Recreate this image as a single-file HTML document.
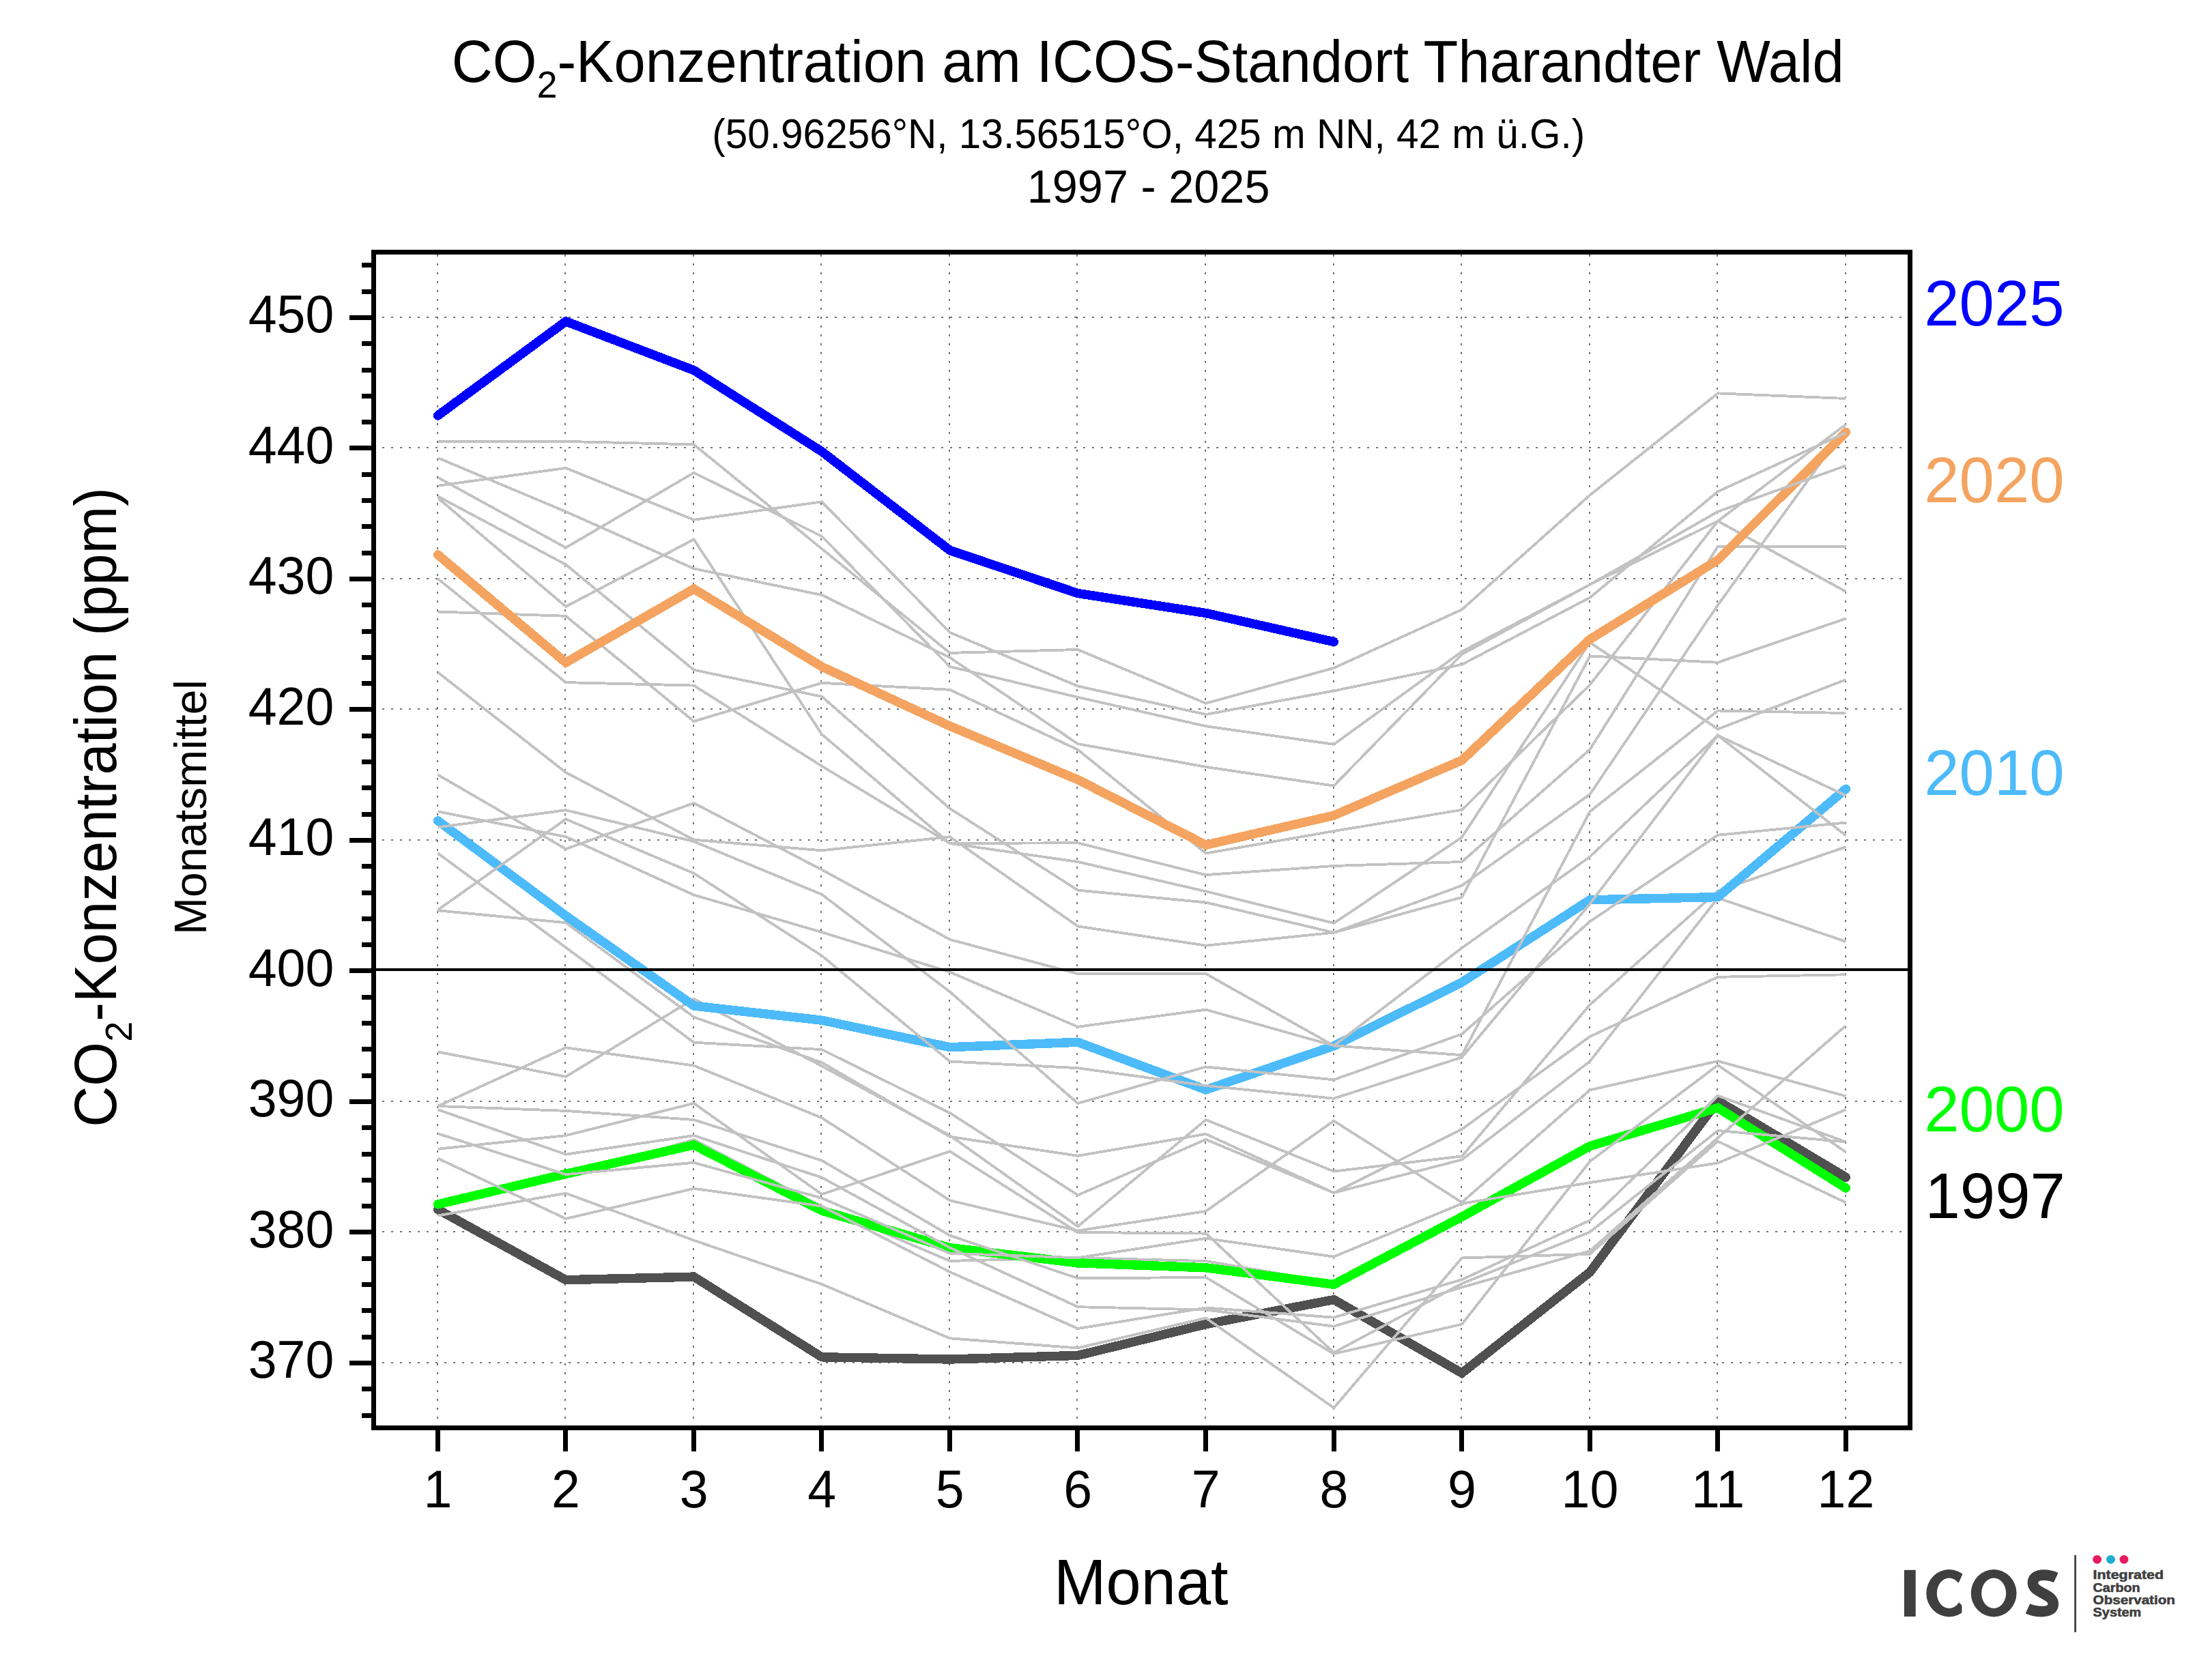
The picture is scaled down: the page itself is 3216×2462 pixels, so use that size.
<!DOCTYPE html>
<html lang="de"><head><meta charset="utf-8">
<title>CO2-Konzentration am ICOS-Standort Tharandter Wald</title>
<style>
html,body{margin:0;padding:0;background:#fff;}
body{width:3216px;height:2462px;overflow:hidden;}
svg{display:block;}
text{font-family:"Liberation Sans", sans-serif;fill:#000;}
.g{fill:none;stroke:#c2c2c2;stroke-width:3.9;stroke-linejoin:miter;stroke-linecap:butt;shape-rendering:crispEdges;}
.h{fill:none;stroke-width:13.4;stroke-linejoin:miter;stroke-linecap:round;shape-rendering:crispEdges;}
.grid{stroke:#737373;stroke-width:2;fill:none;}
</style></head><body>
<svg width="3216" height="2462" viewBox="0 0 3216 2462">
<rect x="0" y="0" width="3216" height="2462" fill="#ffffff"/>
<g class="grid">
<line x1="641" y1="373" x2="641" y2="2089" stroke-dasharray="3 10" stroke-dashoffset="-0.1"/>
<line x1="828" y1="373" x2="828" y2="2089" stroke-dasharray="3 10" stroke-dashoffset="-0.1"/>
<line x1="1016" y1="373" x2="1016" y2="2089" stroke-dasharray="3 10" stroke-dashoffset="-0.1"/>
<line x1="1203" y1="373" x2="1203" y2="2089" stroke-dasharray="3 10" stroke-dashoffset="-0.1"/>
<line x1="1391" y1="373" x2="1391" y2="2089" stroke-dasharray="3 10" stroke-dashoffset="-0.1"/>
<line x1="1578" y1="373" x2="1578" y2="2089" stroke-dasharray="3 10" stroke-dashoffset="-0.1"/>
<line x1="1766" y1="373" x2="1766" y2="2089" stroke-dasharray="3 10" stroke-dashoffset="-0.1"/>
<line x1="1954" y1="373" x2="1954" y2="2089" stroke-dasharray="3 10" stroke-dashoffset="-0.1"/>
<line x1="2141" y1="373" x2="2141" y2="2089" stroke-dasharray="3 10" stroke-dashoffset="-0.1"/>
<line x1="2329" y1="373" x2="2329" y2="2089" stroke-dasharray="3 10" stroke-dashoffset="-0.1"/>
<line x1="2516" y1="373" x2="2516" y2="2089" stroke-dasharray="3 10" stroke-dashoffset="-0.1"/>
<line x1="2704" y1="373" x2="2704" y2="2089" stroke-dasharray="3 10" stroke-dashoffset="-0.1"/>
<line x1="560" y1="1997" x2="2795" y2="1997" stroke-dasharray="3 10"/>
<line x1="560" y1="1805" x2="2795" y2="1805" stroke-dasharray="3 10"/>
<line x1="560" y1="1614" x2="2795" y2="1614" stroke-dasharray="3 10"/>
<line x1="560" y1="1231" x2="2795" y2="1231" stroke-dasharray="3 10"/>
<line x1="560" y1="1039" x2="2795" y2="1039" stroke-dasharray="3 10"/>
<line x1="560" y1="848" x2="2795" y2="848" stroke-dasharray="3 10"/>
<line x1="560" y1="656" x2="2795" y2="656" stroke-dasharray="3 10"/>
<line x1="560" y1="465" x2="2795" y2="465" stroke-dasharray="3 10"/>
</g>
<polyline class="h" stroke="#505050" points="641.5,1772.5 829.0,1875.7 1016.6,1871.1 1204.1,1988.8 1391.7,1992.0 1579.2,1986.4 1766.8,1940.6 1954.3,1904.6 2141.9,2012.2 2329.4,1864.3 2516.9,1613.2 2704.5,1725.2"/>
<g class="g">
<polyline points="641.5,1768.0 829.0,1725.0 1016.6,1670.1 1204.1,1768.0 1391.7,1847.9 1579.2,1843.2 1766.8,1848.1 1954.3,1880.0 2141.9,1780.0 2329.4,1677.0 2516.9,1620.0 2704.5,1738.0"/>
<polyline points="641.5,1781.5 829.0,1748.7 1016.6,1817.7 1204.1,1882.0 1391.7,1961.3 1579.2,1975.5 1766.8,1931.5 1954.3,2063.2 2141.9,1843.5 2329.4,1837.8 2516.9,1672.6 2704.5,1762.5"/>
</g>
<polyline class="h" stroke="#00ff00" points="641.5,1764.9 829.0,1720.4 1016.6,1677.9 1204.1,1774.2 1391.7,1828.6 1579.2,1850.8 1766.8,1857.8 1954.3,1882.3 2141.9,1783.2 2329.4,1679.6 2516.9,1623.5 2704.5,1741.1"/>
<g class="g">
<polyline points="641.5,1697.6 829.0,1786.0 1016.6,1741.8 1204.1,1767.6 1391.7,1864.0 1579.2,1947.0 1766.8,1916.5 1954.3,1930.7 2141.9,1875.2 2329.4,1788.4 2516.9,1605.8 2704.5,1673.4"/>
<polyline points="641.5,1683.8 829.0,1664.1 1016.6,1616.8 1204.1,1750.2 1391.7,1687.3 1579.2,1806.0 1766.8,1807.6 1954.3,1982.3 2141.9,1881.0 2329.4,1805.6 2516.9,1656.9 2704.5,1673.4"/>
<polyline points="641.5,1661.3 829.0,1721.1 1016.6,1703.8 1204.1,1755.8 1391.7,1836.8 1579.2,1843.2 1766.8,1814.8 1954.3,1841.7 2141.9,1763.8 2329.4,1733.1 2516.9,1704.4 2704.5,1626.1"/>
<polyline points="641.5,1626.1 829.0,1691.7 1016.6,1664.1 1204.1,1725.6 1391.7,1828.5 1579.2,1915.2 1766.8,1919.5 1954.3,1943.7 2141.9,1886.5 2329.4,1833.3 2516.9,1667.4 2704.5,1502.9"/>
<polyline points="641.5,1621.0 829.0,1627.9 1016.6,1641.0 1204.1,1700.7 1391.7,1810.6 1579.2,1873.3 1766.8,1872.0 1954.3,1984.0 2141.9,1940.6 2329.4,1702.1 2516.9,1561.0 2704.5,1688.3"/>
<polyline points="641.5,1621.0 829.0,1535.3 1016.6,1561.6 1204.1,1638.2 1391.7,1759.2 1579.2,1803.6 1766.8,1775.0 1954.3,1642.6 2141.9,1762.0 2329.4,1597.4 2516.9,1555.0 2704.5,1606.4"/>
<polyline points="641.5,1541.5 829.0,1577.8 1016.6,1463.9 1204.1,1562.3 1391.7,1664.0 1579.2,1797.3 1766.8,1641.0 1954.3,1716.6 2141.9,1694.4 2329.4,1472.5 2516.9,1305.6 2704.5,1241.1"/>
<polyline points="641.5,1334.3 829.0,1352.2 1016.6,1490.5 1204.1,1557.1 1391.7,1665.8 1579.2,1693.8 1766.8,1661.9 1954.3,1748.0 2141.9,1654.8 2329.4,1519.1 2516.9,1431.8 2704.5,1428.3"/>
<polyline points="641.5,1250.4 829.0,1388.5 1016.6,1527.7 1204.1,1538.1 1391.7,1631.0 1579.2,1751.4 1766.8,1669.9 1954.3,1748.0 2141.9,1699.5 2329.4,1555.4 2516.9,1316.0 2704.5,1379.9"/>
</g>
<polyline class="h" stroke="#4dbbfa" points="641.5,1202.8 829.0,1342.0 1016.6,1474.0 1204.1,1495.2 1391.7,1534.7 1579.2,1527.3 1766.8,1597.0 1954.3,1532.8 2141.9,1439.5 2329.4,1318.8 2516.9,1314.6 2704.5,1156.2"/>
<g class="g">
<polyline points="641.5,1333.6 829.0,1200.4 1016.6,1279.8 1204.1,1400.6 1391.7,1555.5 1579.2,1565.2 1766.8,1591.0 1954.3,1609.8 2141.9,1549.4 2329.4,1324.6 2516.9,1077.8 2704.5,1224.5"/>
<polyline points="641.5,1212.4 829.0,1187.2 1016.6,1233.2 1204.1,1310.8 1391.7,1453.5 1579.2,1617.0 1766.8,1563.4 1954.3,1582.4 2141.9,1515.4 2329.4,1350.5 2516.9,1223.8 2704.5,1205.5"/>
<polyline points="641.5,1189.3 829.0,1226.2 1016.6,1311.5 1204.1,1366.1 1391.7,1424.5 1579.2,1504.8 1766.8,1479.6 1954.3,1532.4 2141.9,1546.2 2329.4,1189.3 2516.9,1041.5 2704.5,1045.0"/>
<polyline points="641.5,1135.4 829.0,1244.2 1016.6,1176.9 1204.1,1274.6 1391.7,1376.8 1579.2,1427.1 1766.8,1427.1 1954.3,1532.4 2141.9,1389.2 2329.4,1255.6 2516.9,1077.8 2704.5,1165.8"/>
<polyline points="641.5,985.3 829.0,1132.0 1016.6,1230.7 1204.1,1246.3 1391.7,1226.3 1579.2,1357.4 1766.8,1385.7 1954.3,1366.7 2141.9,1314.9 2329.4,961.5 2516.9,970.8 2704.5,906.5"/>
<polyline points="641.5,896.5 829.0,902.8 1016.6,1057.1 1204.1,1000.8 1391.7,1010.8 1579.2,1098.7 1766.8,1250.5 1954.3,1218.0 2141.9,1186.8 2329.4,1003.6 2516.9,763.6 2704.5,867.1"/>
<polyline points="641.5,848.1 829.0,1000.1 1016.6,1004.6 1204.1,1122.7 1391.7,1235.9 1579.2,1263.0 1766.8,1306.3 1954.3,1352.9 2141.9,1226.9 2329.4,941.4 2516.9,1068.5 2704.5,996.0"/>
<polyline points="641.5,729.7 829.0,888.9 1016.6,790.5 1204.1,1076.1 1391.7,1235.9 1579.2,1235.3 1766.8,1282.1 1954.3,1269.0 2141.9,1263.0 2329.4,1098.5 2516.9,800.8 2704.5,800.8"/>
<polyline points="641.5,727.3 829.0,827.4 1016.6,981.8 1204.1,1020.8 1391.7,1184.9 1579.2,1304.6 1766.8,1322.5 1954.3,1366.7 2141.9,1297.7 2329.4,1164.1 2516.9,886.7 2704.5,627.0"/>
</g>
<polyline class="h" stroke="#f4a460" points="641.5,813.0 829.0,971.0 1016.6,863.0 1204.1,977.0 1391.7,1064.0 1579.2,1142.6 1766.8,1238.3 1954.3,1195.0 2141.9,1114.2 2329.4,937.0 2516.9,820.6 2704.5,633.1"/>
<g class="g">
<polyline points="641.5,711.8 829.0,685.9 1016.6,761.8 1204.1,735.3 1391.7,926.9 1579.2,1005.5 1766.8,1047.0 1954.3,1012.4 2141.9,973.8 2329.4,875.8 2516.9,720.4 2704.5,634.1"/>
<polyline points="641.5,699.7 829.0,802.6 1016.6,692.8 1204.1,786.0 1391.7,977.0 1579.2,1021.8 1766.8,1064.2 1954.3,1090.8 2141.9,954.8 2329.4,856.8 2516.9,763.6 2704.5,622.0"/>
<polyline points="641.5,671.0 829.0,749.8 1016.6,833.3 1204.1,872.0 1391.7,963.6 1579.2,1090.1 1766.8,1123.9 1954.3,1151.6 2141.9,958.9 2329.4,856.8 2516.9,749.8 2704.5,682.4"/>
<polyline points="641.5,646.9 829.0,646.9 1016.6,651.4 1204.1,804.3 1391.7,956.9 1579.2,952.0 1766.8,1030.7 1954.3,978.9 2141.9,893.3 2329.4,725.6 2516.9,576.4 2704.5,584.0"/>
</g>
<polyline class="h" stroke="#0000ff" points="641.5,609.0 829.0,471.0 1016.6,542.6 1204.1,661.7 1391.7,806.5 1579.2,869.5 1766.8,898.5 1954.3,940.6"/>
<rect x="551" y="1419" width="2244" height="4" fill="#000"/>
<g fill="#000">
<rect x="547.5" y="369.5" width="2251" height="1723" fill="none" stroke="#000" stroke-width="7"/>
<rect x="530" y="2071" width="15" height="7"/>
<rect x="530" y="2032" width="15" height="7"/>
<rect x="512" y="1994" width="33" height="7"/>
<rect x="530" y="1956" width="15" height="7"/>
<rect x="530" y="1917" width="15" height="7"/>
<rect x="530" y="1879" width="15" height="7"/>
<rect x="530" y="1841" width="15" height="7"/>
<rect x="512" y="1802" width="33" height="7"/>
<rect x="530" y="1764" width="15" height="7"/>
<rect x="530" y="1726" width="15" height="7"/>
<rect x="530" y="1688" width="15" height="7"/>
<rect x="530" y="1649" width="15" height="7"/>
<rect x="512" y="1611" width="33" height="7"/>
<rect x="530" y="1573" width="15" height="7"/>
<rect x="530" y="1534" width="15" height="7"/>
<rect x="530" y="1496" width="15" height="7"/>
<rect x="530" y="1458" width="15" height="7"/>
<rect x="512" y="1419" width="33" height="7"/>
<rect x="530" y="1381" width="15" height="7"/>
<rect x="530" y="1343" width="15" height="7"/>
<rect x="530" y="1305" width="15" height="7"/>
<rect x="530" y="1266" width="15" height="7"/>
<rect x="512" y="1228" width="33" height="7"/>
<rect x="530" y="1190" width="15" height="7"/>
<rect x="530" y="1151" width="15" height="7"/>
<rect x="530" y="1113" width="15" height="7"/>
<rect x="530" y="1075" width="15" height="7"/>
<rect x="512" y="1036" width="33" height="7"/>
<rect x="530" y="998" width="15" height="7"/>
<rect x="530" y="960" width="15" height="7"/>
<rect x="530" y="922" width="15" height="7"/>
<rect x="530" y="883" width="15" height="7"/>
<rect x="512" y="845" width="33" height="7"/>
<rect x="530" y="807" width="15" height="7"/>
<rect x="530" y="768" width="15" height="7"/>
<rect x="530" y="730" width="15" height="7"/>
<rect x="530" y="692" width="15" height="7"/>
<rect x="512" y="653" width="33" height="7"/>
<rect x="530" y="615" width="15" height="7"/>
<rect x="530" y="577" width="15" height="7"/>
<rect x="530" y="539" width="15" height="7"/>
<rect x="530" y="500" width="15" height="7"/>
<rect x="512" y="462" width="33" height="7"/>
<rect x="530" y="424" width="15" height="7"/>
<rect x="530" y="385" width="15" height="7"/>
<rect x="638" y="2095" width="7" height="32"/>
<rect x="825" y="2095" width="7" height="32"/>
<rect x="1013" y="2095" width="7" height="32"/>
<rect x="1200" y="2095" width="7" height="32"/>
<rect x="1388" y="2095" width="7" height="32"/>
<rect x="1575" y="2095" width="7" height="32"/>
<rect x="1763" y="2095" width="7" height="32"/>
<rect x="1951" y="2095" width="7" height="32"/>
<rect x="2138" y="2095" width="7" height="32"/>
<rect x="2326" y="2095" width="7" height="32"/>
<rect x="2513" y="2095" width="7" height="32"/>
<rect x="2701" y="2095" width="7" height="32"/>
</g>
<text transform="translate(489.30,2019.10) scale(1,1.032)" font-size="75.3" text-anchor="end">370</text>
<text transform="translate(489.30,1827.60) scale(1,1.032)" font-size="75.3" text-anchor="end">380</text>
<text transform="translate(489.30,1636.10) scale(1,1.032)" font-size="75.3" text-anchor="end">390</text>
<text transform="translate(489.30,1444.60) scale(1,1.032)" font-size="75.3" text-anchor="end">400</text>
<text transform="translate(489.30,1253.10) scale(1,1.032)" font-size="75.3" text-anchor="end">410</text>
<text transform="translate(489.30,1061.60) scale(1,1.032)" font-size="75.3" text-anchor="end">420</text>
<text transform="translate(489.30,870.10) scale(1,1.032)" font-size="75.3" text-anchor="end">430</text>
<text transform="translate(489.30,678.60) scale(1,1.032)" font-size="75.3" text-anchor="end">440</text>
<text transform="translate(489.30,487.10) scale(1,1.032)" font-size="75.3" text-anchor="end">450</text>
<text transform="translate(641.50,2209.30) scale(1,1.032)" font-size="75.3" text-anchor="middle">1</text>
<text transform="translate(829.04,2209.30) scale(1,1.032)" font-size="75.3" text-anchor="middle">2</text>
<text transform="translate(1016.59,2209.30) scale(1,1.032)" font-size="75.3" text-anchor="middle">3</text>
<text transform="translate(1204.13,2209.30) scale(1,1.032)" font-size="75.3" text-anchor="middle">4</text>
<text transform="translate(1391.68,2209.30) scale(1,1.032)" font-size="75.3" text-anchor="middle">5</text>
<text transform="translate(1579.22,2209.30) scale(1,1.032)" font-size="75.3" text-anchor="middle">6</text>
<text transform="translate(1766.77,2209.30) scale(1,1.032)" font-size="75.3" text-anchor="middle">7</text>
<text transform="translate(1954.31,2209.30) scale(1,1.032)" font-size="75.3" text-anchor="middle">8</text>
<text transform="translate(2141.86,2209.30) scale(1,1.032)" font-size="75.3" text-anchor="middle">9</text>
<text transform="translate(2329.40,2209.30) scale(1,1.032)" font-size="75.3" text-anchor="middle">10</text>
<text transform="translate(2516.95,2209.30) scale(1,1.032)" font-size="75.3" text-anchor="middle">11</text>
<text transform="translate(2704.49,2209.30) scale(1,1.032)" font-size="75.3" text-anchor="middle">12</text>
<text transform="translate(1681.7,120.3) scale(1,1.04)" font-size="83.15" text-anchor="middle">CO<tspan font-size="54" dy="21.5">2</tspan><tspan dy="-21.5">-Konzentration am ICOS-Standort Tharandter Wald</tspan></text>
<text transform="translate(1682.80,217.00) scale(1,1.032)" font-size="58.5" text-anchor="middle">(50.96256°N, 13.56515°O, 425 m NN, 42 m ü.G.)</text>
<text transform="translate(1682.60,297.20) scale(1,1.032)" font-size="66.67" text-anchor="middle">1997 - 2025</text>
<text transform="translate(1671.80,2350.60) scale(1,1.035)" font-size="92" text-anchor="middle">Monat</text>
<text transform="translate(170,1183) rotate(-90) scale(1,1.04)" font-size="83.33" text-anchor="middle">CO<tspan font-size="54" dy="22.5">2</tspan><tspan dy="-22.5">-Konzentration (ppm)</tspan></text>
<text transform="translate(302.3,1183) rotate(-90) scale(1,1.015)" font-size="66" text-anchor="middle">Monatsmittel</text>
<text transform="translate(2819.30,476.60) scale(1,1.032)" font-size="92.3" text-anchor="start" style="fill:#0000ff">2025</text>
<text transform="translate(2819.30,735.60) scale(1,1.032)" font-size="92.3" text-anchor="start" style="fill:#f4a460">2020</text>
<text transform="translate(2819.30,1164.80) scale(1,1.032)" font-size="92.3" text-anchor="start" style="fill:#4dbbfa">2010</text>
<text transform="translate(2819.30,1657.90) scale(1,1.032)" font-size="92.3" text-anchor="start" style="fill:#00ff00">2000</text>
<text transform="translate(2820.50,1785.30) scale(1,1.032)" font-size="92.3" text-anchor="start">1997</text>
<g style="fill:#3f3f3f" font-weight="bold">
<rect x="2789.9" y="2300.8" width="16.8" height="68.2" fill="#3f3f3f"/>
<clipPath id="cC"><path d="M2815 2295 L2877 2295 L2876.6 2304.5 L2870.2 2318.5 L2857 2334.7 L2874.4 2352.5 L2874.4 2375 L2815 2375Z"/></clipPath>
<path clip-path="url(#cC)" fill-rule="evenodd" fill="#3f3f3f" d="M2822.30 2334.75 a33.50 34.65 0 1 0 67.00 0 a33.50 34.65 0 1 0 -67.00 0Z M2837.80 2334.75 a18.00 22.30 0 1 0 36.00 0 a18.00 22.30 0 1 0 -36.00 0Z"/>
<path fill-rule="evenodd" fill="#3f3f3f" d="M2887.75 2334.75 a33.40 34.65 0 1 0 66.80 0 a33.40 34.65 0 1 0 -66.80 0Z M2903.15 2334.75 a18.00 22.30 0 1 0 36.00 0 a18.00 22.30 0 1 0 -36.00 0Z"/>
<path fill="none" stroke="#3f3f3f" stroke-width="15.6" stroke-linecap="butt" d="M3012.3 2312 C3006.5 2309.3 3000.5 2308.1 2994 2308.1 C2984 2308.1 2978.4 2312.8 2978.4 2319.6 C2978.4 2327.2 2985 2330.6 2993.3 2335 C3002 2339.6 3008.3 2343.2 3008.3 2350.9 C3008.3 2357.6 3002 2361.6 2991.5 2361.6 C2984 2361.6 2977 2360.2 2971 2357.4"/>
<rect x="3039.2" y="2279" width="2.8" height="113" fill="#3f3f3f"/>
<circle cx="3072.6" cy="2285.3" r="6.4" fill="#e81b60"/>
<circle cx="3092.5" cy="2285.3" r="6.4" fill="#1eacd0"/>
<circle cx="3112.0" cy="2285.3" r="6.4" fill="#e81b60"/>
<text x="3066.6" y="2314.1" font-size="17.9" textLength="103.4" lengthAdjust="spacingAndGlyphs" style="fill:#3f3f3f;stroke:#3f3f3f;stroke-width:0.6;stroke-linejoin:round">Integrated</text>
<text x="3066.6" y="2332.9" font-size="17.9" textLength="69.0" lengthAdjust="spacingAndGlyphs" style="fill:#3f3f3f;stroke:#3f3f3f;stroke-width:0.6;stroke-linejoin:round">Carbon</text>
<text x="3066.6" y="2351.4" font-size="17.9" textLength="120.3" lengthAdjust="spacingAndGlyphs" style="fill:#3f3f3f;stroke:#3f3f3f;stroke-width:0.6;stroke-linejoin:round">Observation</text>
<text x="3066.6" y="2368.7" font-size="17.9" textLength="70.7" lengthAdjust="spacingAndGlyphs" style="fill:#3f3f3f;stroke:#3f3f3f;stroke-width:0.6;stroke-linejoin:round">System</text>
</g>
</svg>
</body></html>
